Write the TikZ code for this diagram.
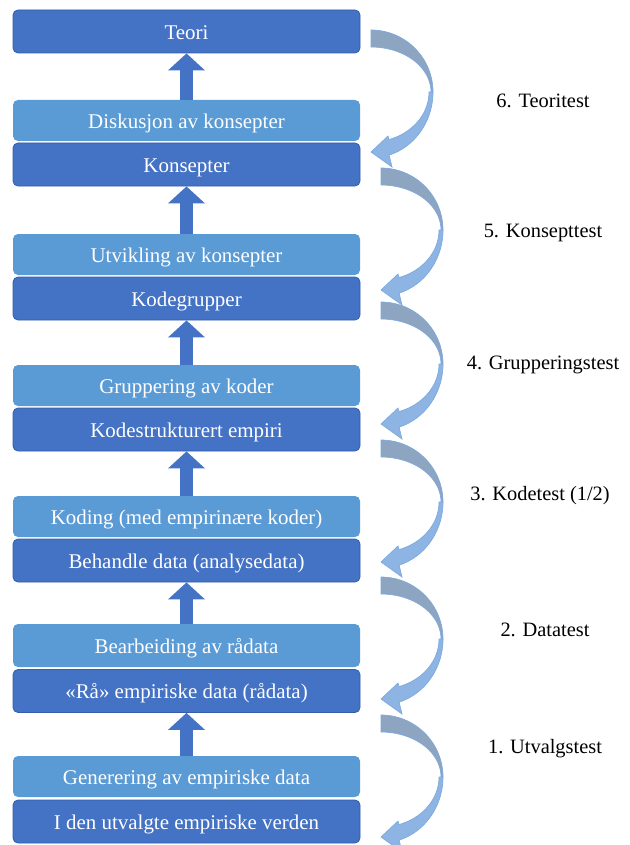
\documentclass[tikz,border=0pt]{standalone}
\usepackage{fontspec}
\setmainfont{Liberation Serif}
\usetikzlibrary{arrows.meta}
\definecolor{mork}{RGB}{68,114,196}
\definecolor{lys}{RGB}{91,155,213}
\definecolor{kant}{RGB}{52,94,170}
\definecolor{graablaa}{RGB}{141,165,193}
\definecolor{lysblaa}{RGB}{141,180,226}
\definecolor{pilkant}{RGB}{125,170,222}

\begin{document}
\begin{tikzpicture}[x=0.75pt,y=-0.75pt,
	boks/.style={shape=rectangle,rounded corners=3.75pt,minimum width=260.25pt,minimum height=32.25pt,inner sep=0pt,text height=15pt,text depth=3.5pt,text=white,font=\fontsize{15.7}{18}\selectfont},
	mork boks/.style={boks,fill=mork,draw=kant,line width=0.6pt},
	lys boks/.style={boks,fill=lys,minimum height=30.75pt},
	test/.style={font=\fontsize{15.3}{18}\selectfont},
	opp/.style={draw=mork,line width=9.75pt,-{Triangle[width=27pt,length=12.75pt]}},
	testpil/.pic={
		\fill[graablaa,draw=pilkant,line width=0.5pt] plot[domain=-90:0,samples=30] ({62*cos(\x)},{62+62*sin(\x)}) -- plot[domain=0:-90,samples=30] ({60*cos(\x)},{62+45*sin(\x)}) -- cycle;
		\fill[lysblaa,draw=pilkant,line width=0.5pt] plot[domain=0:73,samples=30] ({62*cos(\x)},{62+66*sin(\x)}) -- (21,137) -- (0,122) -- (17,106) -- plot[domain=72:0,samples=30] ({58*cos(\x)},{62+50*sin(\x)}) -- cycle;
	}]
	\useasboundingbox (0,0) rectangle (629,845);

	\node[mork boks] (teori) at (186.5,31.5) {Teori};
	\node[lys boks] (diskusjon) at (186.5,120.5) {Diskusjon av konsepter};
	\node[mork boks] (konsepter) at (186.5,164.5) {Konsepter};
	\node[lys boks] (utvikling) at (186.5,254.5) {Utvikling av konsepter};
	\node[mork boks] (kodegrupper) at (186.5,298.5) {Kodegrupper};
	\node[lys boks] (gruppering) at (186.5,385.5) {Gruppering av koder};
	\node[mork boks] (kodestrukt) at (186.5,429.5) {Kodestrukturert empiri};
	\node[lys boks] (koding) at (186.5,516.5) {Koding (med empirinære koder)};
	\node[mork boks] (behandle) at (186.5,560.5) {Behandle data (analysedata)};
	\node[lys boks,minimum height=32.25pt] (bearbeiding) at (186.5,645.5) {Bearbeiding av rådata};
	\node[mork boks] (raa) at (186.5,691) {«Rå» empiriske data (rådata)};
	\node[lys boks] (generering) at (186.5,776.5) {Generering av empiriske data};
	\node[mork boks] (verden) at (186.5,821.5) {I den utvalgte empiriske verden};

	\draw[opp] (diskusjon.north) -- (teori.south);
	\draw[opp] (utvikling.north) -- (konsepter.south);
	\draw[opp] (gruppering.north) -- (kodegrupper.south);
	\draw[opp] (koding.north) -- (kodestrukt.south);
	\draw[opp] (bearbeiding.north) -- (behandle.south);
	\draw[opp] (generering.north) -- (raa.south);

	\pic at (371,30) {testpil};
	\pic at (381,168) {testpil};
	\pic at (381,302) {testpil};
	\pic at (381,440) {testpil};
	\pic at (381,577) {testpil};
	\pic at (381,715) {testpil};

	\node[test] (t6) at (543,101) {6. Teoritest};
	\node[test] (t5) at (543,233) {5. Konsepttest};
	\node[test] (t4) at (543,365) {4. Grupperingstest};
	\node[test] (t3) at (540,496) {3. Kodetest (1/2)};
	\node[test] (t2) at (545,630) {2. Datatest};
	\node[test] (t1) at (545,749) {1. Utvalgstest};
\end{tikzpicture}
\end{document}
